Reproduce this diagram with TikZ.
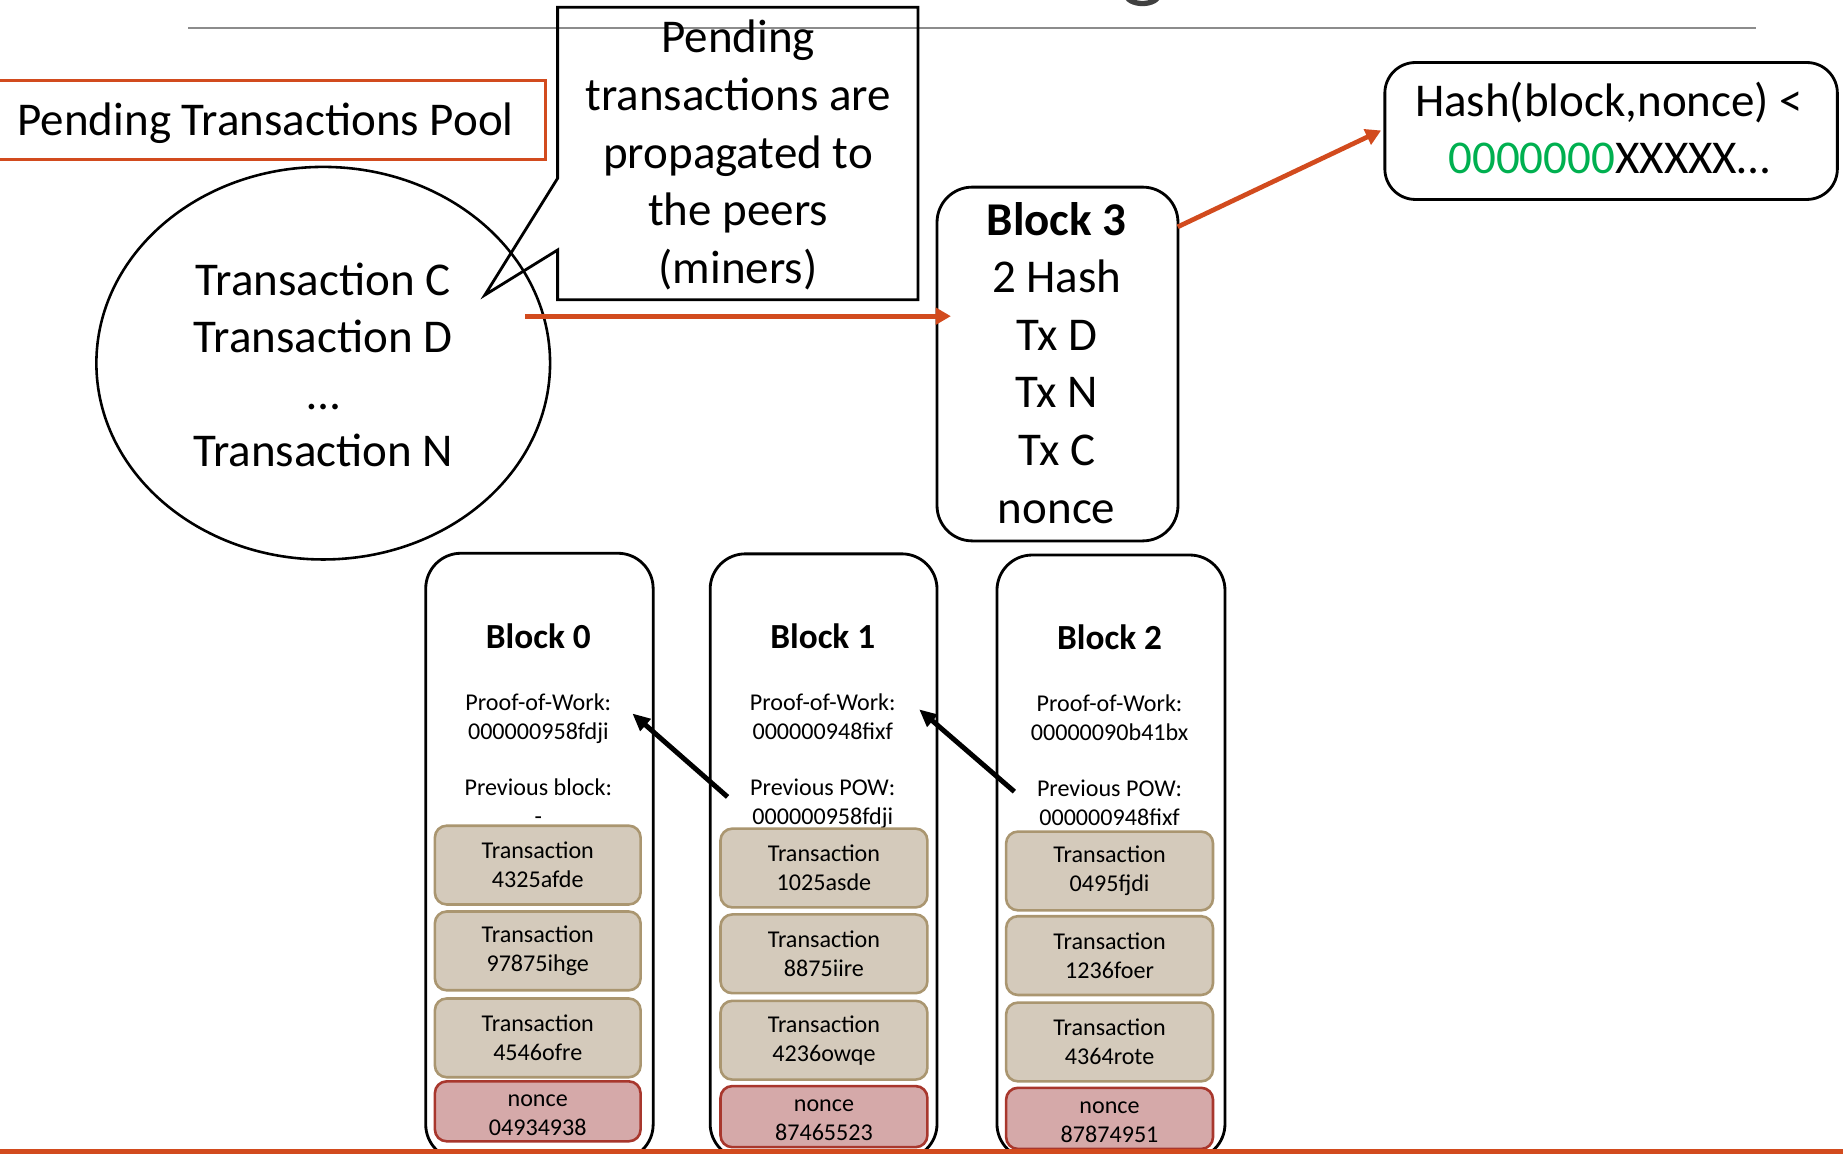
\documentclass[tikz,border=0pt]{standalone}
\usepackage{fontspec}
\setmainfont{Carlito}
\usetikzlibrary{shapes.geometric,arrows.meta}
\definecolor{orng}{RGB}{210,75,30}
\definecolor{grn}{RGB}{0,176,80}
\definecolor{txfill}{RGB}{212,202,187}
\definecolor{txdraw}{RGB}{170,150,112}
\definecolor{ncfill}{RGB}{213,169,169}
\definecolor{ncdraw}{RGB}{168,55,45}
\definecolor{rulegray}{RGB}{140,140,140}
\definecolor{gdark}{RGB}{64,64,64}
\newcommand\nctop{\rule{0pt}{16pt}}
\begin{document}
\begin{tikzpicture}[x=1pt,y=-1pt,
  bigtxt/.style={font=\fontsize{40}{49}\selectfont, inner sep=0pt, anchor=base},
  bigbold/.style={font=\fontsize{40}{49}\selectfont\bfseries, inner sep=0pt, anchor=base},
  smtxt/.style={font=\fontsize{20.5}{24.5}\selectfont, inner sep=0pt, anchor=base},
  titletxt/.style={font=\fontsize{30}{36}\selectfont\bfseries, inner sep=0pt, anchor=base},
  blockbox/.style={draw, line width=2.4pt, rounded corners=30pt, fill=white, inner sep=0pt, anchor=north west},
  txbox/.style={draw=txdraw, fill=txfill, line width=2.2pt, rounded corners=10pt, minimum width=175pt, minimum height=67pt, inner sep=0pt, align=center, font=\fontsize{20.5}{24.5}\selectfont},
  ncbox/.style={txbox, draw=ncdraw, fill=ncfill, minimum height=51pt},
  oarrow/.style={draw=orng, line width=4pt, -{Triangle[length=13pt,width=14pt]}},
  barrow/.style={draw=black, line width=4.2pt, -{Triangle[length=15pt,width=13pt]}},
]
\useasboundingbox (0,0) rectangle (1568,981);
\clip (0,0) rectangle (1568,981);
\fill[white] (0,0) rectangle (1568,981);

% title remnant and rules
\draw[line width=4.5pt, gdark] (972,-5) ellipse [x radius=14pt, y radius=8pt];
\draw[rulegray, line width=1.5pt] (160,24) -- (1494,24);

% pending pool
\node[draw=orng, line width=2.6pt, minimum width=466pt, minimum height=67pt, inner sep=0pt, anchor=north west] (pendbox) at (-3,67.5) {};
\node[bigtxt] (pendtxt) at (226,115) {Pending Transactions Pool};

\node[draw, ellipse, line width=2.2pt, minimum width=386pt, minimum height=334pt, inner sep=0pt] (pool) at (275,309) {};
\node[bigtxt] (e1) at (275,251) {Transaction C};
\node[bigtxt] (e2) at (275,299.5) {Transaction D};
\node[bigtxt] (e3) at (275,348) {…};
\node[bigtxt] (e4) at (275,396.5) {Transaction N};

% callout
\draw[line width=2.4pt, line join=miter] (474.4,151.7) -- (474.4,6.2) -- (781,6.2) -- (781,255) -- (474.4,255) -- (474.4,212.7) -- (412.5,251) -- cycle;
\node[bigtxt] (c1) at (628,45) {Pending};
\node[bigtxt] (c2) at (628,94) {transactions are};
\node[bigtxt] (c3) at (628,143) {propagated to};
\node[bigtxt] (c4) at (628,192) {the peers};
\node[bigtxt] (c5) at (628,241) {(miners)};

% block 3
\node[blockbox, minimum width=205pt, minimum height=301pt] (b3) at (796,158) {};
\node[bigbold] (b3a) at (899,200.5) {Block 3};
\node[bigtxt] (b3b) at (899,249) {2 Hash};
\node[bigtxt] (b3c) at (899,298) {Tx D};
\node[bigtxt] (b3d) at (899,347) {Tx N};
\node[bigtxt] (b3e) at (899,396) {Tx C};
\node[bigtxt] (b3f) at (899,445) {nonce};

% hash box
\node[draw, line width=2.4pt, rounded corners=26pt, minimum width=385pt, minimum height=116.5pt, inner sep=0pt, anchor=north west] (hash) at (1177,52) {};
\node[bigtxt] (h1) at (1369,99) {Hash(block,nonce) <};
\node[bigtxt] (h2) at (1369,148) {\textcolor{grn}{0000000}XXXXX…};

% orange arrows
\coordinate (o1s) at (447,269);
\coordinate (o1e) at (809,269);
\draw[oarrow] (o1s) -- (o1e);
\coordinate (o2s) at (1002,193);
\coordinate (o2e) at (1175,111);
\draw[oarrow] (o2s) -- (o2e);

% blocks 0-2
\node[blockbox, minimum width=193.5pt, minimum height=516pt] (b0) at (361,469.5) {};
\node[blockbox, minimum width=193pt, minimum height=515pt] (b1) at (603,470) {};
\node[blockbox, minimum width=194pt, minimum height=514pt] (b2) at (847,471) {};

\node[titletxt] (b0t) at (458,552) {Block 0};
\node[smtxt] (b0p) at (458,604.5) {Proof-of-Work:};
\node[smtxt] (b0q) at (458,629) {000000958fdji};
\node[smtxt] (b0r) at (458,677) {Previous block:};
\node[smtxt] (b0s) at (458,701.5) {-};

\node[titletxt] (b1t) at (700,552) {Block 1};
\node[smtxt] (b1p) at (700,604.5) {Proof-of-Work:};
\node[smtxt] (b1q) at (700,629) {000000948fixf};
\node[smtxt] (b1r) at (700,677) {Previous POW:};
\node[smtxt] (b1s) at (700,701.5) {000000958fdji};

\node[titletxt] (b2t) at (944,553) {Block 2};
\node[smtxt] (b2p) at (944,605.5) {Proof-of-Work:};
\node[smtxt] (b2q) at (944,630) {00000090b41bx};
\node[smtxt] (b2r) at (944,678) {Previous POW:};
\node[smtxt] (b2s) at (944,702.5) {000000948fixf};

\node[txbox] (t01) at (457.5,736) {Transaction\\4325afde};
\node[txbox] (t02) at (457.5,809) {Transaction\\97875ihge};
\node[txbox] (t03) at (457.5,883) {Transaction\\4546ofre};
\node[ncbox] (n0) at (457.5,945.5) {\nctop nonce\\04934938};

\node[txbox, minimum width=176pt] (t11) at (701,738.5) {Transaction\\1025asde};
\node[txbox, minimum width=176pt] (t12) at (701,811.5) {Transaction\\8875iire};
\node[txbox, minimum width=176pt] (t13) at (701,885) {Transaction\\4236owqe};
\node[ncbox, minimum width=176pt, minimum height=52pt] (n1) at (701,950) {\nctop nonce\\87465523};

\node[txbox, minimum width=176pt] (t21) at (944,741) {Transaction\\0495fjdi};
\node[txbox, minimum width=176pt] (t22) at (944,813) {Transaction\\1236foer};
\node[txbox, minimum width=176pt] (t23) at (944,886.5) {Transaction\\4364rote};
\node[ncbox, minimum width=176pt, minimum height=52pt] (n2) at (944,951.5) {\nctop nonce\\87874951};

% black arrows
\coordinate (k1s) at (619,678);
\coordinate (k1e) at (538,607);
\draw[barrow] (k1s) -- (k1e);
\coordinate (k2s) at (863,673.5);
\coordinate (k2e) at (782,603.5);
\draw[barrow] (k2s) -- (k2e);

% bottom rule
\draw[orng, line width=4pt] (0,979.5) -- (1568,979.5);
\end{tikzpicture}
\end{document}
